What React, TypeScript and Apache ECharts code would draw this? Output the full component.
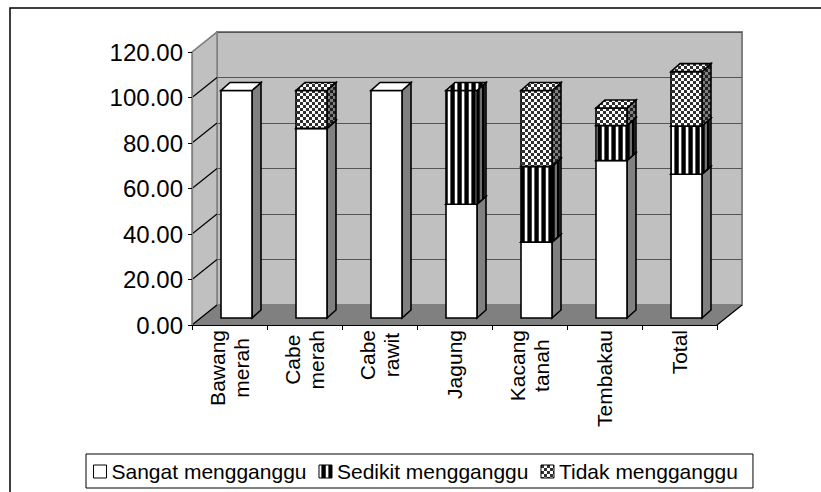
import React, { useEffect, useRef } from 'react';
import * as echarts from 'echarts';

const categories = ['Bawang\nmerah', 'Cabe\nmerah', 'Cabe\nrawit', 'Jagung', 'Kacang\ntanah', 'Tembakau', 'Total'];
const seriesNames = ['Sangat mengganggu', 'Sedikit mengganggu', 'Tidak mengganggu'];
const sangat = [100, 83.33, 100, 50, 33.33, 69.23, 63.2];
const sedikit = [0, 0, 0, 50, 33.33, 15.38, 21.2];
const tidak = [0, 16.67, 0, 0, 33.34, 7.69, 23.9];
const yTicks = [0, 20, 40, 60, 80, 100, 120];

const FONT = '"Liberation Sans", Arial, sans-serif';

function makeTile(w: number, h: number, draw: (ctx: CanvasRenderingContext2D) => void) {
  const c = document.createElement('canvas');
  c.width = w;
  c.height = h;
  const ctx = c.getContext('2d') as CanvasRenderingContext2D;
  draw(ctx);
  return c;
}

function stripeTile(cols: string[]) {
  return makeTile(cols.length, 4, (ctx) => {
    cols.forEach((col, i) => {
      ctx.fillStyle = col;
      ctx.fillRect(i, 0, 1, 4);
    });
  });
}

function checkerTile(bg: string, fg: string) {
  return makeTile(6, 6, (ctx) => {
    ctx.fillStyle = bg;
    ctx.fillRect(0, 0, 6, 6);
    ctx.fillStyle = fg;
    ctx.fillRect(0, 0, 3, 3);
    ctx.fillRect(3, 3, 3, 3);
  });
}

function pat(canvas: HTMLCanvasElement) {
  return { type: 'pattern', image: canvas, repeat: 'repeat' } as any;
}

export default function App() {
  const ref = useRef<HTMLDivElement>(null);
  useEffect(() => {
    if (!ref.current) return;
    const chart = echarts.init(ref.current, null, { renderer: 'svg' });

    const stripeFront = pat(stripeTile(['#ffffff', '#ffffff', '#606060', '#000000', '#000000', '#000000', '#404040']));
    const stripeSide = pat(stripeTile(['#707070', '#707070', '#000000', '#000000', '#202020']));
    const checkFront = pat(checkerTile('#ffffff', '#303030'));
    const checkSide = pat(checkerTile('#808080', '#202020'));

    const fills = [
      { front: '#ffffff', side: '#808080', top: '#ffffff' },
      { front: stripeFront, side: stripeSide, top: stripeFront },
      { front: checkFront, side: checkSide, top: checkFront },
    ];
    const values = [sangat, sedikit, tidak];

    const DX = 25;
    const DY = -20;
    const BAR_OFF = -8.5;
    const BAR_W = 31;
    const BAR_LIFT = -7;
    const BDX = 9;
    const BDY = -8;

    const wallSeries = {
      type: 'custom',
      name: 'walls',
      xAxisIndex: 0,
      yAxisIndex: 0,
      z: 1,
      clip: false,
      silent: true,
      data: [[0, 0]],
      renderItem: (params: any, api: any) => {
        const cs = params.coordSys;
        const x0 = cs.x;
        const x1 = cs.x + cs.width;
        const yBot = cs.y + cs.height;
        const yTop = cs.y;
        const children: any[] = [];
        children.push({
          type: 'polygon',
          shape: { points: [[x0, yTop], [x0 + DX, yTop + DY], [x0 + DX, yBot + DY], [x0, yBot]] },
          style: { fill: '#c0c0c0', stroke: '#808080', lineWidth: 1.5 },
        });
        children.push({
          type: 'polygon',
          shape: { points: [[x0, yBot], [x1, yBot], [x1 + DX, yBot + DY], [x0 + DX, yBot + DY]] },
          style: { fill: '#808080', stroke: '#808080', lineWidth: 1 },
        });
        children.push({
          type: 'line',
          shape: { x1: x1, y1: yBot, x2: x1 + DX, y2: yBot + DY },
          style: { stroke: '#000', lineWidth: 1.2 },
        });
        yTicks.forEach((v) => {
          const p = api.coord([0, v]);
          children.push({
            type: 'line',
            shape: { x1: x0, y1: p[1], x2: x0 + DX, y2: p[1] + DY },
            style: { stroke: v === 120 ? '#808080' : '#000', lineWidth: 1.2 },
          });
        });
        return { type: 'group', children };
      },
    };

    const barSeries = seriesNames.map((name, k) => {
      const data: number[][] = [];
      categories.forEach((_, i) => {
        let base = 0;
        for (let j = 0; j < k; j++) base += values[j][i];
        const v = values[k][i];
        if (v > 0) data.push([i, base, base + v]);
      });
      const f = fills[k];
      return {
        type: 'custom',
        name,
        xAxisIndex: 0,
        yAxisIndex: 0,
        z: 2,
        clip: false,
        encode: { x: 0, y: [1, 2] },
        itemStyle: { color: f.front, borderColor: '#000', borderWidth: 1 },
        data,
        renderItem: (params: any, api: any) => {
          const i = api.value(0);
          const b = api.value(1);
          const t = api.value(2);
          const pB = api.coord([i, b]);
          const pT = api.coord([i, t]);
          const xl = pB[0] + BAR_OFF;
          const xr = xl + BAR_W;
          const yb = pB[1] + BAR_LIFT;
          const yt = pT[1] + BAR_LIFT;
          return {
            type: 'group',
            children: [
              {
                type: 'polygon',
                shape: { points: [[xr, yt], [xr + BDX, yt + BDY], [xr + BDX, yb + BDY], [xr, yb]] },
                style: { fill: f.side, stroke: '#000', lineWidth: 1.6 },
              },
              {
                type: 'rect',
                shape: { x: xl, y: yt, width: BAR_W, height: yb - yt },
                style: { fill: f.front, stroke: '#000', lineWidth: 1.6 },
              },
              {
                type: 'polygon',
                shape: { points: [[xl, yt], [xr, yt], [xr + BDX, yt + BDY], [xl + BDX, yt + BDY]] },
                style: { fill: f.top, stroke: '#000', lineWidth: 1.6 },
              },
            ],
          };
        },
      };
    });

    const option: any = {
      animation: false,
      backgroundColor: '#ffffff',
      textStyle: { fontFamily: FONT },
      grid: [
        { left: 192, top: 52, width: 525, height: 273, containLabel: false },
        {
          left: 192 + DX,
          top: 52 + DY,
          width: 525,
          height: 273,
          show: true,
          backgroundColor: '#c0c0c0',
          borderColor: '#808080',
          borderWidth: 2,
          z: 0,
        },
      ],
      xAxis: [
        {
          type: 'category',
          gridIndex: 0,
          data: categories,
          z: 10,
          axisLine: { show: true, lineStyle: { color: '#000', width: 1.2 } },
          axisTick: { show: true, length: 5, lineStyle: { color: '#000' } },
          axisLabel: {
            interval: 0,
            rotate: 90,
            margin: 5,
            color: '#000',
            fontSize: 21,
            fontFamily: FONT,
            formatter: (val: string) =>
              val
                .split('\n')
                .map((l) => `{c|${l}}`)
                .join('\n'),
            rich: { c: { align: 'center', fontSize: 21, fontFamily: FONT, color: '#000', lineHeight: 24 } },
          },
          splitLine: { show: false },
        },
        {
          type: 'category',
          gridIndex: 1,
          data: categories,
          show: false,
        },
      ],
      yAxis: [
        {
          type: 'value',
          gridIndex: 0,
          min: 0,
          max: 120,
          interval: 20,
          z: 10,
          axisLine: { show: true, lineStyle: { color: '#808080', width: 1.2 } },
          axisTick: { show: true, length: 4, lineStyle: { color: '#000' } },
          axisLabel: {
            margin: 9,
            color: '#000',
            fontSize: 24,
            fontFamily: FONT,
            formatter: (v: number) => v.toFixed(2),
          },
          splitLine: { show: false },
        },
        {
          type: 'value',
          gridIndex: 1,
          min: 0,
          max: 120,
          interval: 20,
          axisLine: { show: false },
          axisTick: { show: false },
          axisLabel: { show: false },
          splitLine: { show: true, lineStyle: { color: '#555555', width: 1.2 } },
        },
      ],
      legend: {
        left: 86,
        top: 454,
        orient: 'horizontal',
        padding: [7, 15, 6, 7],
        itemGap: 12,
        itemWidth: 13,
        itemHeight: 13,
        borderColor: '#000',
        borderWidth: 1,
        backgroundColor: '#fff',
        textStyle: { fontSize: 21, fontFamily: FONT, color: '#000' },
        data: seriesNames.map((n, k) => ({
          name: n,
          icon: 'rect',
          itemStyle: { color: fills[k].front, borderColor: '#000', borderWidth: 1 },
        })),
      },
      graphic: [
        {
          type: 'rect',
          z: 100,
          silent: true,
          shape: { x: 10, y: 8, width: 900, height: 700 },
          style: { fill: 'none', stroke: '#000', lineWidth: 1.5 },
        },
      ],
      series: [wallSeries, ...barSeries],
    };

    chart.setOption(option);
    return () => chart.dispose();
  }, []);

  return (
    <div
      ref={ref}
      style={{ position: 'fixed', left: 0, top: 0, width: 821, height: 492, background: '#fff' }}
    />
  );
}
